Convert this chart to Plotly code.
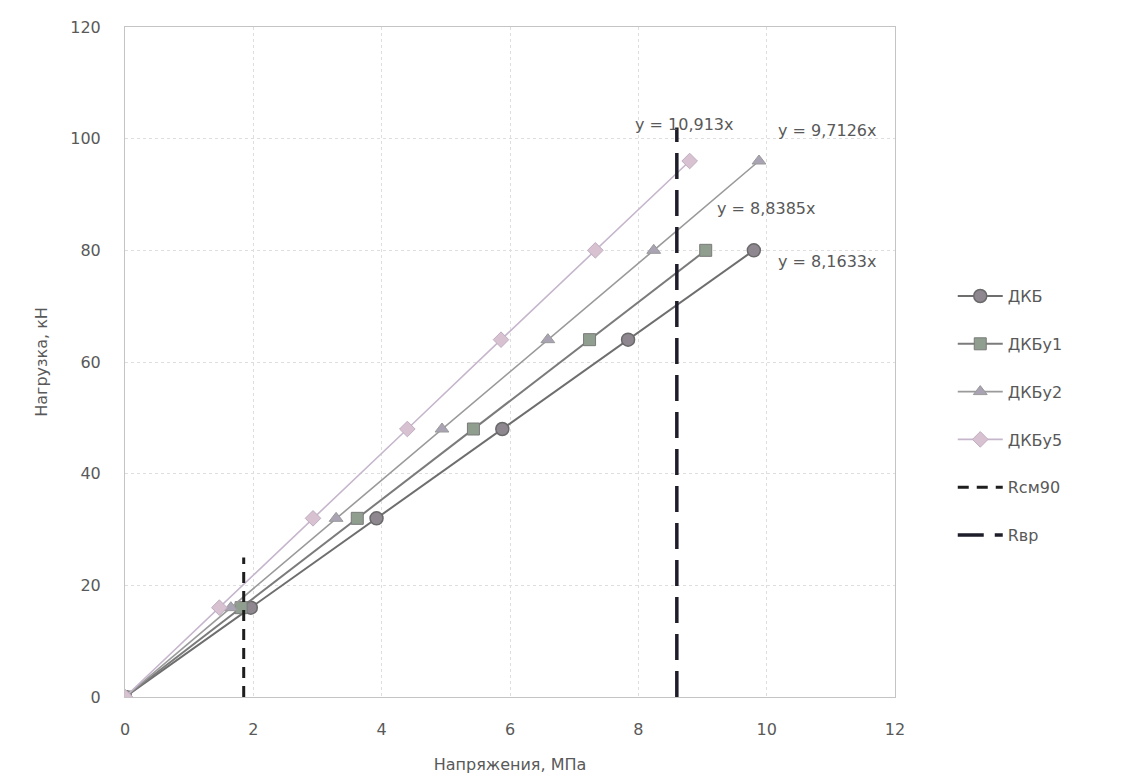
import plotly.graph_objects as go

# ---- data ----
loads_dkb = [0, 16, 32, 48, 64, 80]
stress_dkb = [0, 1.96, 3.92, 5.88, 7.84, 9.80]

loads_dkbu1 = [0, 16, 32, 48, 64, 80]
stress_dkbu1 = [0, 1.81, 3.62, 5.43, 7.24, 9.05]

loads_dkbu2 = [0, 16, 32, 48, 64, 80, 96]
stress_dkbu2 = [0, 1.65, 3.29, 4.94, 6.59, 8.24, 9.88]

loads_dkbu5 = [0, 16, 32, 48, 64, 80, 96]
stress_dkbu5 = [0, 1.47, 2.93, 4.40, 5.86, 7.33, 8.80]

rcm90_x = [1.85, 1.85]
rcm90_y = [0, 25]
rvp_x = [8.6, 8.6]
rvp_y = [0, 102]

series_names = ["ДКБ", "ДКБу1", "ДКБу2", "ДКБу5"]
slopes = ["8,1633", "8,8385", "9,7126", "10,913"]
eq_x = [10.95, 10.0, 10.95, 8.72]
eq_y = [78, 87.5, 101.5, 102.5]

x_ticks = [0, 2, 4, 6, 8, 10, 12]
y_ticks = [0, 20, 40, 60, 80, 100, 120]

FONT = "DejaVu Sans, sans-serif"
TXT = "#595959"
FS = 16

fig = go.Figure()

styles = [
    dict(line=dict(color="#6e6e6e", width=2),
         marker=dict(symbol="circle", size=13, color="#8f8790", line=dict(color="#6a6a6a", width=1.5))),
    dict(line=dict(color="#7b7b7b", width=2),
         marker=dict(symbol="square", size=12, color="#8f9e8e", line=dict(color="#7a7a7a", width=1))),
    dict(line=dict(color="#9a9a9a", width=1.6),
         marker=dict(symbol="triangle-up", size=12, color="#a9a3b3", line=dict(color="#9a9a9a", width=1))),
    dict(line=dict(color="#c6b6cc", width=1.6),
         marker=dict(symbol="diamond", size=12, color="#d8c2d2", line=dict(color="#bfaebf", width=1))),
]
data = [(stress_dkb, loads_dkb), (stress_dkbu1, loads_dkbu1),
        (stress_dkbu2, loads_dkbu2), (stress_dkbu5, loads_dkbu5)]

for i, (name, (xs, ys)) in enumerate(zip(series_names, data)):
    fig.add_trace(go.Scatter(x=xs, y=ys, mode="lines+markers", name=name,
                             legendgroup=name, **styles[i]))

fig.add_trace(go.Scatter(x=rcm90_x, y=rcm90_y, mode="lines", name="Rсм90", legendgroup="Rсм90",
                         line=dict(color="#1e1e1e", width=3, dash="11px,8px")))
fig.add_trace(go.Scatter(x=rvp_x, y=rvp_y, mode="lines", name="Rвр", legendgroup="Rвр",
                         line=dict(color="#1e1e2a", width=3.5, dash="26px,11px")))

for s, ex, ey in zip(slopes, eq_x, eq_y):
    fig.add_annotation(x=ex, y=ey, text=f"y = {s}x", showarrow=False,
                       font=dict(family=FONT, size=FS, color=TXT))

fig.update_layout(
    width=1128, height=782,
    margin=dict(l=125, r=233, t=27, b=82),
    paper_bgcolor="white", plot_bgcolor="white",
    font=dict(family=FONT, size=FS, color=TXT),
    showlegend=True,
    legend=dict(x=1.075, y=0.42, xanchor="left", yanchor="middle",
                tracegroupgap=24, font=dict(size=FS, color=TXT),
                itemwidth=45, bgcolor="rgba(0,0,0,0)"),
)
fig.update_xaxes(range=[0, 12], tickvals=x_ticks, showgrid=True, gridcolor="#dedede",
                 griddash="dot", zeroline=False, showline=True, linecolor="#c4c4c4",
                 mirror=True, ticks="", ticklabelstandoff=18,
                 title=dict(text="Напряжения, МПа", standoff=20,
                            font=dict(family=FONT, size=FS, color=TXT)))
fig.update_yaxes(range=[0, 120], tickvals=y_ticks, showgrid=True, gridcolor="#dedede",
                 griddash="dot", zeroline=False, showline=True, linecolor="#c4c4c4",
                 mirror=True, ticks="", ticklabelstandoff=20,
                 title=dict(text="Нагрузка, кН", standoff=18,
                            font=dict(family=FONT, size=FS, color=TXT)))

fig.write_html("out.html")
